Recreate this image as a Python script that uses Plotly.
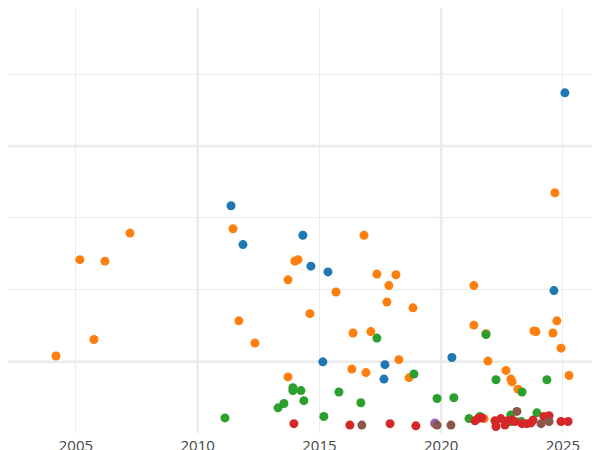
import plotly.graph_objects as go

blue_x = [2011.37, 2011.86, 2014.32, 2014.65, 2015.35, 2015.14, 2017.69, 2017.65, 2020.44, 2024.63, 2025.08]
blue_y = [2.17, 1.63, 1.76, 1.33, 1.25, 0.0, -0.04, -0.24, 0.06, 0.99, 3.74]

orange_x = [2004.18, 2005.16, 2005.74, 2006.19, 2007.22, 2011.45, 2011.69, 2012.35, 2013.71, 2013.99,
            2014.12, 2013.71, 2014.61, 2016.83, 2016.38, 2016.33, 2015.68, 2016.91, 2017.11, 2017.36,
            2017.85, 2017.77, 2018.14, 2018.26, 2018.84, 2018.68, 2021.34, 2021.34, 2021.84, 2021.92,
            2022.66, 2022.86, 2022.91, 2023.15, 2023.81, 2023.89, 2024.59, 2024.67, 2024.75, 2024.92,
            2025.25, 2021.76]
orange_y = [0.08, 1.42, 0.31, 1.40, 1.79, 1.85, 0.57, 0.26, 1.14, 1.40,
            1.42, -0.21, 0.67, 1.76, 0.40, -0.10, 0.97, -0.15, 0.42, 1.22,
            1.06, 0.83, 1.21, 0.03, 0.75, -0.22, 1.06, 0.51, 0.39, 0.01,
            -0.12, -0.24, -0.28, -0.38, 0.43, 0.42, 0.40, 2.35, 0.57, 0.19,
            -0.19, -0.79]

green_x = [2011.12, 2013.30, 2013.54, 2013.91, 2013.91, 2014.24, 2014.36, 2015.18, 2015.80, 2016.70,
           2017.36, 2018.88, 2019.83, 2020.52, 2021.14, 2021.59, 2022.25, 2021.84, 2022.86, 2023.32,
           2023.28, 2023.93, 2024.34, 2022.86]
green_y = [-0.78, -0.64, -0.58, -0.40, -0.36, -0.40, -0.54, -0.76, -0.42, -0.57,
           0.33, -0.17, -0.51, -0.50, -0.79, -0.76, -0.25, 0.38, -0.74, -0.42,
           -0.83, -0.71, -0.25, -0.83]

red_x = [2013.95, 2016.25, 2017.90, 2018.96, 2019.74, 2021.39, 2021.51, 2021.67, 2022.21, 2022.25,
         2022.45, 2022.62, 2022.74, 2022.91, 2023.03, 2023.32, 2023.52, 2023.69, 2023.77, 2024.22,
         2024.43, 2024.92, 2025.21]
red_y = [-0.86, -0.88, -0.86, -0.89, -0.86, -0.82, -0.79, -0.78, -0.82, -0.90,
         -0.79, -0.88, -0.82, -0.81, -0.83, -0.86, -0.86, -0.85, -0.81, -0.76,
         -0.75, -0.83, -0.83]

purple_x = [2019.74]
purple_y = [-0.85]

brown_x = [2016.74, 2019.83, 2020.40, 2023.11, 2024.10, 2024.43]
brown_y = [-0.88, -0.88, -0.88, -0.69, -0.86, -0.83]

x_ticks = [2005, 2010, 2015, 2020, 2025]
x_major = [2010, 2020]
y_grid = [0, 1, 2, 3, 4]
y_major = [0, 3]

series = [
    (blue_x, blue_y, "#1f77b4"),
    (orange_x, orange_y, "#ff7f0e"),
    (green_x, green_y, "#2ca02c"),
    (red_x, red_y, "#d62728"),
    (purple_x, purple_y, "#9467bd"),
    (brown_x, brown_y, "#8c564b"),
]

fig = go.Figure()
for xs, ys, c in series:
    fig.add_trace(go.Scatter(x=xs, y=ys, mode="markers", cliponaxis=False,
                             marker=dict(color=c, size=9, line=dict(width=0))))

shapes = []
for v in x_major:
    shapes.append(dict(type="line", xref="x", yref="paper", x0=v, x1=v, y0=0, y1=1,
                       line=dict(color="#ebebeb", width=2.5), layer="below"))
for v in y_major:
    shapes.append(dict(type="line", xref="paper", yref="y", x0=0, x1=1, y0=v, y1=v,
                       line=dict(color="#ebebeb", width=2.5), layer="below"))

fig.update_layout(
    width=600, height=450,
    margin=dict(l=0, r=0, t=0, b=25, pad=0),
    plot_bgcolor="white", paper_bgcolor="white",
    showlegend=False,
    shapes=shapes,
    font=dict(family="Open Sans", size=15, color="#444"),
    xaxis=dict(range=[2002.21, 2026.85], tickvals=x_ticks, showgrid=True, automargin=False,
               gridcolor="#ebebeb", gridwidth=1, zeroline=False, showline=False, ticks="",
               ticklabelstandoff=2),
    yaxis=dict(range=[-0.99, 4.92], tickvals=y_grid, showticklabels=False, showgrid=True,
               automargin=False,
               gridcolor="#ebebeb", gridwidth=1, zeroline=False, showline=False, ticks=""),
)

fig.write_html("out.html")
